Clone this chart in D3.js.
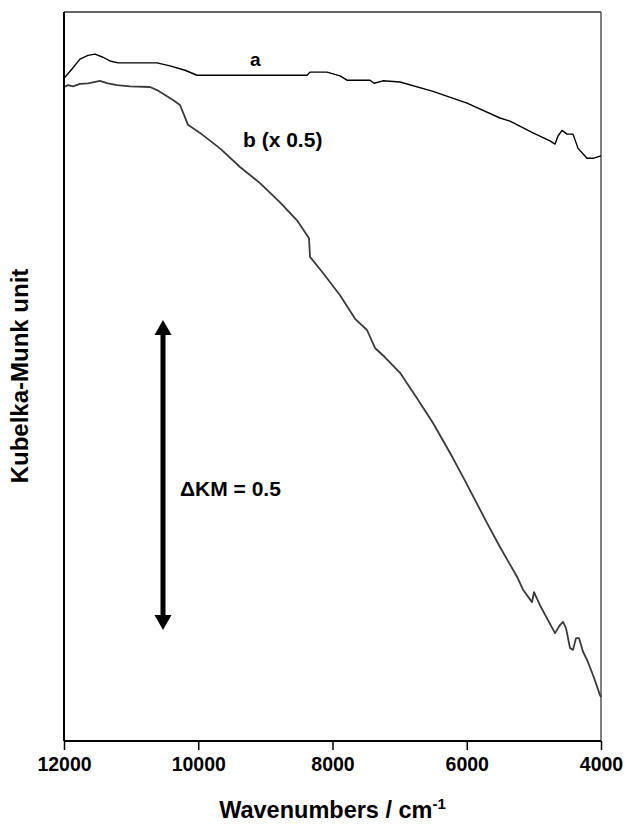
<!DOCTYPE html>
<html>
<head>
<meta charset="utf-8">
<script src="https://cdn.jsdelivr.net/npm/d3@7"></script>
<style>
  html, body { margin: 0; padding: 0; background: #fff; }
  text { font-family: Arial, "Liberation Sans", sans-serif; font-weight: bold; fill: #000; }
</style>
</head>
<body>
<svg id="chart" width="627" height="825"></svg>
<script>
// ---- data (wavenumber in cm-1, Kubelka-Munk units) ----
const wavenumbersA = [12000, 11881, 11762, 11642, 11538, 11419, 11315, 11195, 10615, 10421, 10197, 10019, 8380, 8335, 8082, 7888, 7784, 7441, 7381, 7248, 6994, 6503, 5996, 5505, 5356, 5013, 4760, 4685, 4640, 4581, 4506, 4417, 4342, 4208, 4119, 4000];
const kmA = [1.069, 1.084, 1.100, 1.106, 1.108, 1.103, 1.097, 1.094, 1.094, 1.089, 1.082, 1.074, 1.074, 1.079, 1.079, 1.073, 1.066, 1.066, 1.061, 1.065, 1.063, 1.048, 1.029, 1.005, 1.000, 0.981, 0.968, 0.963, 0.976, 0.985, 0.979, 0.979, 0.956, 0.940, 0.940, 0.944];

const wavenumbersB = [12000, 11940, 11866, 11762, 11642, 11464, 11344, 11210, 11017, 10719, 10615, 10495, 10376, 10272, 10212, 10153, 9974, 9676, 9378, 9080, 8782, 8529, 8350, 8335, 8141, 7888, 7664, 7486, 7367, 7218, 6994, 6741, 6503, 6250, 6056, 5877, 5699, 5505, 5251, 5162, 5028, 4998, 4909, 4790, 4685, 4611, 4566, 4521, 4462, 4417, 4372, 4328, 4268, 4208, 4104, 4015, 4000];
const kmB = [1.055, 1.058, 1.056, 1.060, 1.061, 1.065, 1.061, 1.058, 1.056, 1.055, 1.050, 1.042, 1.034, 1.026, 1.010, 0.994, 0.981, 0.956, 0.926, 0.900, 0.869, 0.840, 0.811, 0.781, 0.755, 0.719, 0.681, 0.663, 0.634, 0.619, 0.594, 0.553, 0.513, 0.465, 0.426, 0.389, 0.352, 0.313, 0.265, 0.244, 0.224, 0.240, 0.219, 0.195, 0.174, 0.187, 0.192, 0.182, 0.150, 0.147, 0.166, 0.166, 0.144, 0.131, 0.102, 0.074, 0.071];

const xTicks = [12000, 10000, 8000, 6000, 4000];
const xDomain = [12000, 4000];
const yDomain = [0, 1.176];
const scaleBar = { wavenumber: 10525, from: 0.179, delta: 0.5 };

// ---- layout ----
const margin = { top: 12, right: 26, bottom: 84, left: 64 };
const W = 627, H = 825;
const iw = W - margin.left - margin.right;
const ih = H - margin.top - margin.bottom;

const svg = d3.select("#chart");
const g = svg.append("g").attr("transform", `translate(${margin.left},${margin.top})`);

const x = d3.scaleLinear().domain(xDomain).range([0, iw]);
const y = d3.scaleLinear().domain(yDomain).range([ih, 0]);

// plot area border (top/right)
g.append("line").attr("x1", 0).attr("x2", iw).attr("y1", 0).attr("y2", 0)
  .attr("stroke", "#333").attr("stroke-width", 1.5);
g.append("line").attr("x1", iw).attr("x2", iw).attr("y1", 0).attr("y2", ih)
  .attr("stroke", "#555").attr("stroke-width", 1.5);

// curves
const line = d3.line().x(d => x(d[0])).y(d => y(d[1]));
const dataA = wavenumbersA.map((w, i) => [w, kmA[i]]);
const dataB = wavenumbersB.map((w, i) => [w, kmB[i]]);

g.append("path").datum(dataB).attr("d", line)
  .attr("fill", "none").attr("stroke", "#3a3a3a").attr("stroke-width", 1.8).attr("stroke-linejoin", "round");
g.append("path").datum(dataA).attr("d", line)
  .attr("fill", "none").attr("stroke", "#000").attr("stroke-width", 1.4).attr("stroke-linejoin", "round");

// x axis
const xAxis = d3.axisBottom(x).tickValues(xTicks).tickSize(9).tickPadding(7).tickFormat(d3.format("d"));
const gx = g.append("g").attr("transform", `translate(0,${ih})`).call(xAxis);
gx.select(".domain").attr("stroke", "#000").attr("stroke-width", 2).attr("d", `M0,0H${iw}`);
gx.selectAll(".tick line").attr("stroke", "#000").attr("stroke-width", 1.5);
gx.selectAll(".tick text").style("font-size", "19.5px").attr("fill", "#000");

// y axis line (no ticks)
g.append("line").attr("x1", 0).attr("x2", 0).attr("y1", 0).attr("y2", ih)
  .attr("stroke", "#000").attr("stroke-width", 2);

// axis titles
const xt = svg.append("text").attr("x", margin.left + iw / 2).attr("y", 818)
  .attr("text-anchor", "middle").style("font-size", "23.5px");
xt.append("tspan").text("Wavenumbers / cm");
xt.append("tspan").attr("dy", -9).style("font-size", "15px").text("-1");

svg.append("text").attr("transform", "translate(28,376) rotate(-90)")
  .attr("text-anchor", "middle").style("font-size", "24px").text("Kubelka-Munk unit");

// curve labels
g.append("text").attr("x", x(9230)).attr("y", 66 - margin.top).style("font-size", "19px").text("a");
g.append("text").attr("x", x(9333)).attr("y", 147 - margin.top).style("font-size", "21px").text("b (x 0.5)");

// scale bar arrow
const ax = x(scaleBar.wavenumber);
const yTop = y(scaleBar.from + scaleBar.delta), yBot = y(scaleBar.from);
const headH = 15, headW = 8.5;
g.append("line").attr("x1", ax).attr("x2", ax).attr("y1", yTop + headH - 2).attr("y2", yBot - headH + 2)
  .attr("stroke", "#000").attr("stroke-width", 5);
g.append("path").attr("d", `M${ax},${yTop}L${ax - headW},${yTop + headH}L${ax + headW},${yTop + headH}Z`).attr("fill", "#000");
g.append("path").attr("d", `M${ax},${yBot}L${ax - headW},${yBot - headH}L${ax + headW},${yBot - headH}Z`).attr("fill", "#000");
g.append("text").attr("x", ax + 17).attr("y", 496 - margin.top).style("font-size", "21px").text("\u0394KM = 0.5");
</script>
</body>
</html>
